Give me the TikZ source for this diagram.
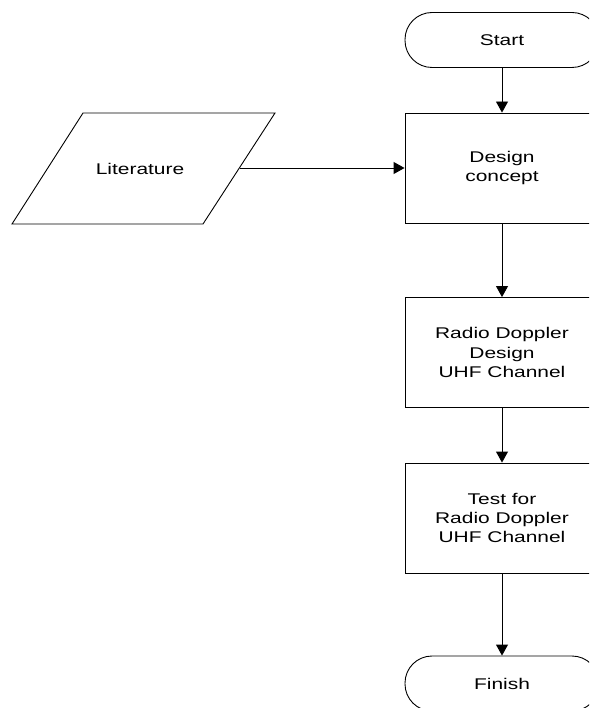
\documentclass[tikz,border=0pt]{standalone}
\usepackage{fontspec}
\setmainfont{Liberation Sans}
\newfontfamily\widefont[FakeStretch=1.35]{Liberation Sans}
\usetikzlibrary{arrows.meta}
\begin{document}
\begin{tikzpicture}[x=1pt,y=-1pt,
  line width=0.9pt,
  txt/.style={font=\widefont\fontsize{15.5}{19.3}\selectfont, align=center},
  term/.style={draw, rounded corners=27pt, minimum width=194pt, minimum height=55pt, inner sep=0pt, txt},
  proc/.style={draw, minimum width=194pt, minimum height=110pt, inner sep=0pt, txt},
  arr/.style={-{Triangle[length=11pt,width=12pt]}}]
\useasboundingbox (0,0) rectangle (589,708);
\clip (0,0) rectangle (589,708);
\node[term] (start) at (502,40) {Start};
\node[proc] (design) at (502,168) {Design\\concept};
\node[proc] (radio) at (502,352.5) {Radio Doppler\\Design\\UHF Channel};
\node[proc] (test) at (502,518) {Test for\\Radio Doppler\\UHF Channel};
\node[term] (finish) at (502,683.5) {Finish};
\draw (83,113) -- (275,113) -- (203,224) -- (12,224) -- cycle;
\node[txt] (lit) at (140,169) {Literature};
\coordinate (litR) at (239.5,168);
\draw[arr] (start) -- (design);
\draw[arr] (litR) -- (design.west);
\draw[arr] (design) -- (radio);
\draw[arr] (radio) -- (test);
\draw[arr] (test) -- (finish);
\end{tikzpicture}
\end{document}
